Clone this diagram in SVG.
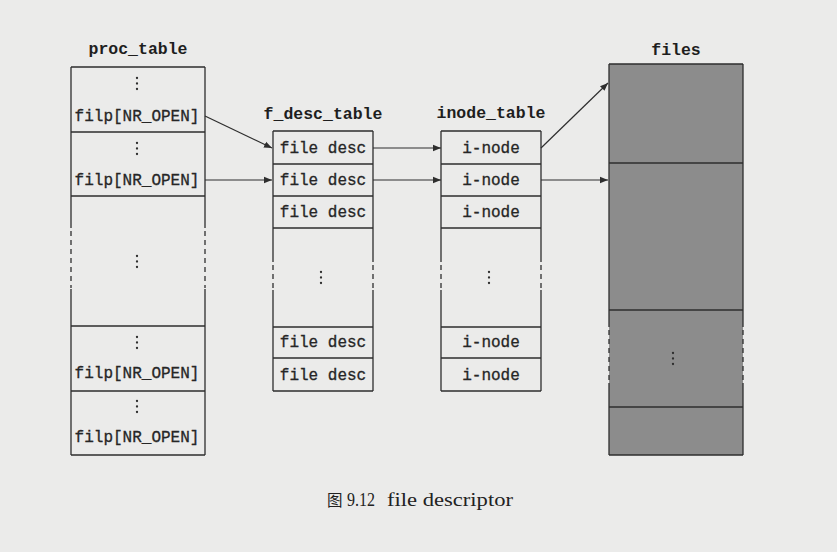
<svg xmlns="http://www.w3.org/2000/svg" width="837" height="552" viewBox="0 0 837 552">
  <defs>
    <style>
      .bg { fill: #ebebea; }
      .ln { fill: none; stroke: #2e2e2e; stroke-width: 1.3; }
      .dash { stroke-dasharray: 5 4; }
      .cell { fill: #262626; font-family: "Liberation Mono", "Courier New", monospace; font-size: 16px; text-anchor: middle; stroke: #262626; stroke-width: 0.3; }
      .title { fill: #1e1e1e; font-family: "Liberation Mono", "Courier New", monospace; font-size: 16.5px; font-weight: bold; text-anchor: middle; }
      .filefill { fill: #8c8c8c; }
      .wire { fill: none; stroke: #2e2e2e; stroke-width: 1.2; marker-end: url(#arrow); }
      .caption { fill: #222; font-family: "Liberation Serif", "Noto Sans CJK SC", serif; font-size: 18px; }
      .dots { fill: #2e2e2e; }
    </style>
    <marker id="arrow" viewBox="0 0 10 10" refX="10" refY="5" markerWidth="8" markerHeight="8" markerUnits="userSpaceOnUse" orient="auto">
      <path d="M0,1 L10,5 L0,9 z" fill="#2e2e2e"/>
    </marker>
    <!-- vertical ellipsis used inside cells -->
    <g id="vdots">
      <circle cx="0" cy="0" r="1.15"/>
      <circle cx="0" cy="5.5" r="1.15"/>
      <circle cx="0" cy="11" r="1.15"/>
    </g>
  </defs>

  <rect class="bg" x="0" y="0" width="837" height="552"/>

  <!-- process table -->
  <g id="proc_table">
    <text class="title" x="138" y="54">proc_table</text>
    <path class="ln" d="M71,67 H205 M71,132 H205 M71,196 H205 M71,326 H205 M71,391 H205 M71,455 H205"/>
    <path class="ln" d="M71,67 V228 M71,289 V455 M205,67 V228 M205,289 V455"/>
    <path class="ln dash" d="M71,231 V288 M205,231 V288"/>
    <g class="dots">
      <use href="#vdots" x="137" y="78"/>
      <use href="#vdots" x="137" y="143"/>
      <use href="#vdots" x="137" y="256"/>
      <use href="#vdots" x="137" y="337"/>
      <use href="#vdots" x="137" y="401"/>
    </g>
    <text class="cell" x="137" y="121">filp[NR_OPEN]</text>
    <text class="cell" x="137" y="185">filp[NR_OPEN]</text>
    <text class="cell" x="137" y="378">filp[NR_OPEN]</text>
    <text class="cell" x="137" y="442">filp[NR_OPEN]</text>
  </g>

  <!-- file descriptor table -->
  <g id="f_desc_table">
    <text class="title" x="323" y="119">f_desc_table</text>
    <path class="ln" d="M273,131 H373 M273,164 H373 M273,196 H373 M273,228 H373 M273,327 H373 M273,358 H373 M273,391 H373"/>
    <path class="ln" d="M273,131 V262 M273,290 V391 M373,131 V262 M373,290 V391"/>
    <path class="ln dash" d="M273,265 V290 M373,265 V290"/>
    <use class="dots" href="#vdots" x="321" y="272"/>
    <text class="cell" x="323" y="153">file desc</text>
    <text class="cell" x="323" y="185">file desc</text>
    <text class="cell" x="323" y="217">file desc</text>
    <text class="cell" x="323" y="347">file desc</text>
    <text class="cell" x="323" y="380">file desc</text>
  </g>

  <!-- inode table -->
  <g id="inode_table">
    <text class="title" x="491" y="118">inode_table</text>
    <path class="ln" d="M441,131 H541 M441,164 H541 M441,196 H541 M441,228 H541 M441,327 H541 M441,358 H541 M441,391 H541"/>
    <path class="ln" d="M441,131 V262 M441,290 V391 M541,131 V262 M541,290 V391"/>
    <path class="ln dash" d="M441,265 V290 M541,265 V290"/>
    <use class="dots" href="#vdots" x="489" y="272"/>
    <text class="cell" x="491" y="153">i-node</text>
    <text class="cell" x="491" y="185">i-node</text>
    <text class="cell" x="491" y="217">i-node</text>
    <text class="cell" x="491" y="347">i-node</text>
    <text class="cell" x="491" y="380">i-node</text>
  </g>

  <!-- files -->
  <g id="files">
    <text class="title" x="676" y="55">files</text>
    <rect class="filefill" x="609" y="64" width="134" height="391"/>
    <path class="ln" d="M609,64 H743 M609,163 H743 M609,310 H743 M609,407 H743 M609,455 H743"/>
    <path class="ln" d="M609,64 V327 M609,383 V455 M743,64 V327 M743,383 V455"/>
    <path class="ln dash" d="M609,330 V383 M743,330 V383"/>
    <use class="dots" href="#vdots" x="673" y="353"/>
  </g>

  <!-- pointers between tables -->
  <g id="connectors">
    <path class="wire" d="M205,116 L272,148"/>
    <path class="wire" d="M205,180 L272,180"/>
    <path class="wire" d="M373,148 L441,148"/>
    <path class="wire" d="M373,180 L441,180"/>
    <path class="wire" d="M541,148 L608,83"/>
    <path class="wire" d="M541,180 L608,180"/>
  </g>

  <g id="caption">
    <text class="caption" y="506"><tspan x="327" font-size="15.5">图</tspan><tspan x="347" textLength="28" lengthAdjust="spacingAndGlyphs">9.12</tspan><tspan x="387" textLength="126" lengthAdjust="spacingAndGlyphs">file descriptor</tspan></text>
  </g>
</svg>
